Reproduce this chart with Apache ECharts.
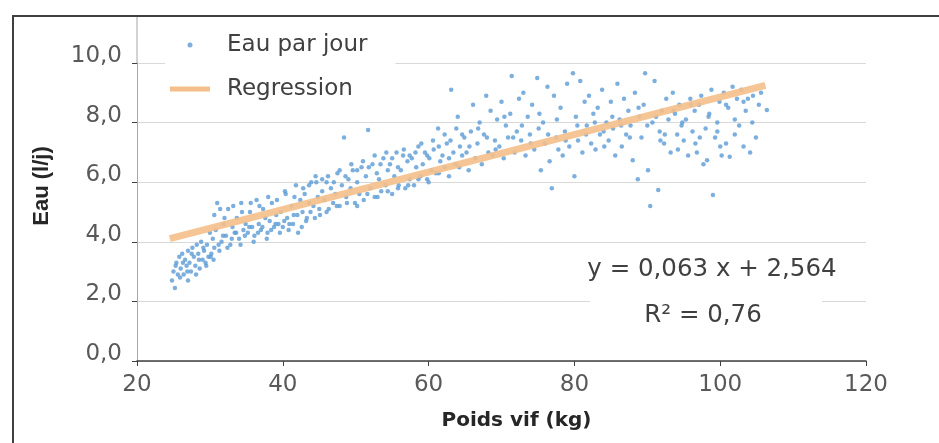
<!DOCTYPE html>
<html><head><meta charset="utf-8">
<script src="https://cdn.jsdelivr.net/npm/echarts@6/dist/echarts.min.js"></script>
<style>html,body{margin:0;padding:0;background:#fff}#c{width:939px;height:443px}</style>
</head><body><div id="c"></div>
<script>
// Poids vif (kg) of each observation
const poids = [
  24.8,25.0,25.2,25.4,25.6,25.8, 26.0,26.2,26.4,26.6,26.8,27.0,
  27.2,27.4,27.6,27.8,28.0,28.2, 28.4,28.6,28.8,29.0,29.2,29.4,
  29.6,29.8,30.0,30.2,30.4,30.6, 30.8,31.0,31.3,31.6,31.9,
  32.2,32.5,32.8,33.1,33.4, 33.7,34.0,34.3,34.6,34.9,
  35.2,35.5,35.8,36.1,36.4, 36.7,37.0,37.3,37.6,37.9,
  38.2,38.5,38.8,39.1,39.4, 39.7,40.0,40.3,40.6,40.9,
  41.2,41.5,41.8,42.1,42.4, 42.7,43.0,43.3,43.6,43.9,
  44.2,44.5,44.8,45.1,45.4, 45.7,46.0,46.3,46.6,46.9,
  47.2,47.5,47.8,48.1,48.4, 48.7,49.0,49.3,49.6,49.9,
  50.2,50.5,50.8,51.1,51.4, 51.7,52.0,52.3,52.6,52.9,
  53.2,53.5,53.8,54.1,54.4, 54.7,55.0,55.3,55.6,55.9,
  56.2,56.5,56.8,57.1,57.4, 57.7,58.0,58.3,58.6,58.9,
  59.2,59.5,59.8,60.1,60.4, 60.7,61.0,61.3,61.6,61.9,
  62.2,62.5,62.8,63.1,63.4, 63.7,64.0,64.3,64.6,64.9,
  65.2,65.5,65.8,66.1,66.4, 66.7,67.0,67.3,67.6,67.9,
  68.2,68.5,68.8,69.1,69.4, 69.7,70.0,70.3,70.6,70.9,
  71.2,71.4,71.8,72.1,72.4, 72.7,73.0,73.3,73.6,73.9,
  74.2,74.5,74.9,75.1,75.4, 75.7,76.0,76.3,76.6,76.9,
  77.2,77.5,77.8,78.1,78.4, 78.7,79.0,79.3,79.8,80.0,
  80.2,80.5,80.8,81.1,81.4, 81.7,82.0,82.3,82.6,82.9,
  83.2,83.5,83.8,84.1,84.4, 84.7,85.0,85.3,85.6,85.9,
  86.2,86.5,86.8,87.1,87.4, 87.7,88.0,88.3,88.7,88.9,
  89.2,89.5,89.7,90.1,90.4, 90.7,91.0,91.5,91.7,92.0,
  92.3,92.6,92.9,93.2,93.5, 93.8,94.1,94.4,94.7,95.0,
  95.3,95.6,95.9,96.2,96.5, 96.8,97.1,97.4,97.7,98.0,
  98.2,98.5,98.8,99.0,99.3, 99.6,99.9,100.2,100.5,100.8,
  101.1,101.3,101.7,102.0,102.3, 102.6,102.9,103.2,103.5,103.8,
  104.1,104.5,104.9,105.3,106.4,
  25.3,25.9,26.3,26.9,27.0,27.5, 28.1,28.5,29.1,29.5,30.1,30.5,
  31.2,31.8,32.4,33.0,33.6,34.2, 34.8,35.4,36.0,36.6,37.2,37.8,
  38.4,39.0,39.6,40.2,40.8,41.4, 42.0,42.6,43.2,43.8,44.4,45.0,
  30.6,31.4,32.0,33.2,34.4,35.6, 36.8,38.0,39.2,40.4,41.6,42.8,43.6,44.6,
  45.4,46.2,47.0,47.8,48.6,49.4, 50.2,51.0,51.8,52.6,53.4,54.2,
  55.0,55.8,56.6,57.4,58.2,59.0, 59.8,60.6,61.4,62.2,63.0,63.8,64.6,
  46.0,47.4,48.8,50.2,51.6,53.0, 54.4,55.8,57.2,58.6,60.0,61.4,62.8,64.2,
  65.6,66.8,68.0,69.2,70.4,71.6, 72.8,74.0,75.2,76.4,77.6,78.8,
  80.4,81.6,82.8,84.0,85.2,86.4, 87.6,88.8,90.0,91.2,92.4,93.6,
  94.8,96.0,97.2,98.4,99.6,100.8, 102.0,103.2,104.4,105.6,100.0,96.6,94.2,91.8
];
// Eau par jour (l/j) of each observation, same order
const eau = [
  2.7,3.0,2.45,3.3,2.9,3.5, 3.1,3.6,2.9,3.4,3.2,3.7,
  3.3,3.0,3.8,3.5,3.2,3.9, 3.6,3.1,4.0,3.4,3.7,3.3,
  3.9,3.5,4.3,3.6,4.1,3.8, 4.4,5.3,3.7,4.0,4.6,
  4.2,5.1,3.9,4.5,4.3, 4.8,4.1,5.3,4.4,4.6,
  4.3,5.0,4.5,4.2,5.4, 4.6,4.4,5.1,4.8,4.3,
  4.7,5.3,4.5,4.9,4.6, 5.0,4.5,5.7,4.8,4.6,
  5.2,4.9,5.9,4.3,5.4, 5.0,5.6,4.8,5.3,6.0,
  5.2,6.2,5.5,4.9,5.7, 5.4,6.0,5.1,5.8,5.3,
  5.6,6.3,5.2,5.9,7.5, 5.5,6.1,5.8,6.4,5.3,
  6.0,5.6,6.5,5.4,6.2, 7.75,5.8,6.6,5.5,6.3,
  6.1,5.7,6.8,5.9,6.4, 6.6,5.6,6.2,7.0,5.9,
  6.4,6.9,5.8,6.7,6.1, 6.8,5.9,6.5,7.2,6.2,
  6.6,7.0,6.1,6.8,6.4, 7.1,6.3,7.8,6.7,6.9,
  6.5,7.3,6.8,9.1,7.0, 6.6,8.2,7.2,6.9,7.5,
  7.0,6.4,7.7,8.6,6.8, 7.3,8.0,6.6,7.6,8.9,
  7.0,8.4,6.9,7.4,8.1, 7.2,8.7,6.8,7.9,7.5,
  8.3,9.56,7.0,7.7,8.8, 7.4,9.0,6.9,8.2,7.6,
  8.6,7.1,9.5,7.8,6.4, 8.0,7.3,9.2,6.7,5.8,
  8.9,7.5,7.1,8.5,6.9, 7.7,9.3,7.2,9.66,6.2,
  8.2,7.4,9.4,7.0,8.7, 7.9,8.9,7.3,8.3,7.1,
  8.5,7.6,9.1,7.2,8.0, 7.4,8.7,7.8,6.9,9.3,
  8.1,7.2,8.8,7.6,8.4, 7.9,6.74,9.0,6.1,8.2,
  7.5,8.6,9.66,6.4,5.2, 8.0,9.4,5.74,7.7,8.4,
  7.3,8.8,8.1,7.0,9.0, 8.3,7.6,8.6,7.9,7.4,
  8.1,6.9,8.8,7.7,8.4, 7.0,8.6,8.9,6.6,7.8,
  6.74,8.3,9.1,5.57,7.5, 8.0,8.7,6.9,9.0,7.3,
  8.5,6.85,9.2,7.6,8.8, 7.9,9.1,7.2,8.4,8.8,
  7.0,8.9,7.5,8.6,8.42,
  3.2,2.8,3.3,3.0,2.7,3.6, 2.9,3.4,3.8,3.2,3.5,3.4,
  3.9,4.2,3.8,4.1,4.3,3.9, 4.2,4.5,4.0,4.3,4.5,4.1,
  4.4,4.6,4.3,4.7,4.4,4.6, 4.9,4.5,4.7,5.0,4.8,5.1,
  4.9,5.1,4.8,5.2,5.0,5.3, 5.2,5.5,5.4,5.6,5.5,5.8,5.9,6.0,
  6.1,6.2,6.0,6.4,6.2,6.6, 6.4,6.7,6.5,6.9,6.6,7.0,
  6.8,6.5,7.1,6.9,7.0,7.3, 6.9,7.4,7.2,7.6,7.4,7.8,7.6,
  5.0,5.2,5.3,5.2,5.6,5.5, 5.7,5.8,5.9,6.1,6.0,6.3,6.2,6.5,
  7.2,7.8,7.5,7.1,8.2,7.5, 7.9,7.3,8.3,7.6,8.1,7.4,
  7.9,7.6,8.0,7.7,8.2,7.9, 7.5,8.5,7.9,8.2,7.6,8.4,
  8.0,8.6,7.5,8.2,7.7,8.6, 8.1,8.7,8.0,9.0,7.2,7.3,7.1,7.4
];
// Regression line end points
const regPoids = [24.5, 106.2];
const regEau = [4.11, 9.25];
const equationText = 'y = 0,063 x + 2,564';
const r2Text = 'R\u00b2 = 0,76';

const chart = echarts.init(document.getElementById('c'), null, {renderer: 'canvas'});
const scatterData = poids.map((x, i) => [x, eau[i]]);
const regData = regPoids.map((x, i) => [x, regEau[i]]);
const fmt = v => v.toFixed(1).replace('.', ',');

chart.setOption({
  animation: false,
  backgroundColor: '#fff',
  grid: {left: 137, right: 73, top: 63, bottom: 82},
  legend: {
    orient: 'vertical', left: 165, top: 28,
    padding: [4, 28, 4, 5], backgroundColor: '#fff',
    itemWidth: 40, itemHeight: 5, itemGap: 18,
    textStyle: {fontFamily: 'DejaVu Sans', fontSize: 23, color: '#404040', lineHeight: 26, padding: [0, 0, 0, 12]},
    data: [{name: 'Eau par jour', icon: 'circle'}, {name: 'Regression', icon: 'rect'}]
  },
  xAxis: {
    type: 'value', min: 20, max: 120, interval: 20,
    axisLine: {show: true, lineStyle: {color: '#404040', width: 1.5}},
    axisTick: {show: true, length: 5, lineStyle: {color: '#404040'}},
    splitLine: {show: false},
    axisLabel: {fontFamily: 'DejaVu Sans', fontSize: 23, color: '#595959', margin: 13},
    name: 'Poids vif (kg)', nameLocation: 'middle', nameGap: 50,
    nameTextStyle: {fontFamily: 'DejaVu Sans', fontWeight: 'bold', fontSize: 20, color: '#262626', padding: [0, 0, 0, 30]}
  },
  yAxis: {
    type: 'value', min: 0, max: 10, interval: 2,
    axisLine: {show: true, lineStyle: {color: '#a6a6a6'}},
    axisTick: {show: true, length: 5, lineStyle: {color: '#404040'}},
    splitLine: {show: true, lineStyle: {color: '#d9d9d9'}},
    axisLabel: {formatter: fmt, fontFamily: 'DejaVu Sans', fontSize: 23, color: '#595959', margin: 15, verticalAlign: 'bottom', lineHeight: 14},
    name: 'Eau (l/j)', nameLocation: 'middle', nameGap: 84,
    nameTextStyle: {fontFamily: 'Liberation Sans', fontWeight: 'bold', fontSize: 22, color: '#262626', padding: [0, 0, 0, 52]}
  },
  series: [
    {
      name: 'Eau par jour', type: 'scatter', data: scatterData,
      symbolSize: 4.5, itemStyle: {color: '#5b9bd5'}, z: 2
    },
    {
      name: 'Regression', type: 'line', data: regData,
      symbol: 'none', showSymbol: false,
      lineStyle: {color: '#f4bf8a', width: 7, opacity: 0.9},
      itemStyle: {color: '#f4bf8a'}, z: 3
    }
  ],
  graphic: [
    {type: 'rect', shape: {x: 13, y: 16, width: 1000, height: 500}, style: {fill: 'none', stroke: '#404040', lineWidth: 2}, z: 10},
    {type: 'line', shape: {x1: 137, y1: 16, x2: 137, y2: 63}, style: {stroke: '#a6a6a6', lineWidth: 1}, z: 1},
    {type: 'rect', shape: {x: 590, y: 250, width: 232, height: 80}, style: {fill: '#fff'}, z: 5},
    {type: 'text', x: 712, y: 270, style: {text: equationText, fontFamily: 'DejaVu Sans', fontSize: 24.5, fill: '#404040', align: 'center', verticalAlign: 'middle'}, z: 6},
    {type: 'text', x: 703, y: 316, style: {text: r2Text, fontFamily: 'DejaVu Sans', fontSize: 24.5, fill: '#404040', align: 'center', verticalAlign: 'middle'}, z: 6}
  ]
});
</script>
</body></html>
